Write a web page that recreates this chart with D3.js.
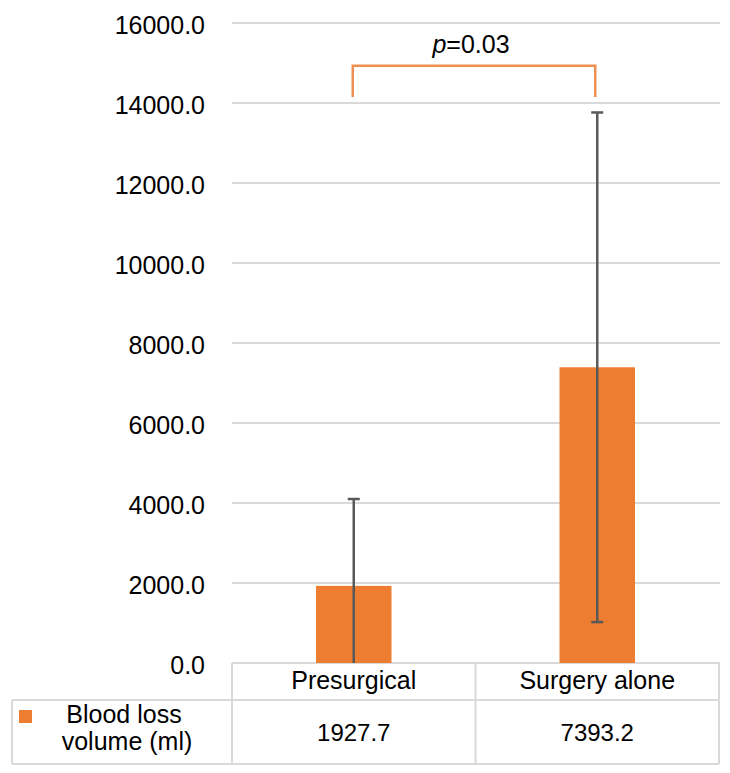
<!DOCTYPE html>
<html>
<head>
<meta charset="utf-8">
<script src="https://cdn.jsdelivr.net/npm/d3@7"></script>
<style>
  html, body { margin: 0; padding: 0; background: #fff; }
  svg { display: block; font-family: "Liberation Sans", Arial, sans-serif; }
</style>
</head>
<body>
<svg id="chart" width="730" height="773"></svg>
<script>
// ---- data ----
const categories = ["Presurgical", "Surgery alone"];
const values = [1927.7, 7393.2];
const errors = [2172, 6370];
const seriesName = ["Blood loss", "volume (ml)"];
const yTicks = [0, 2000, 4000, 6000, 8000, 10000, 12000, 14000, 16000];
const pLabel = "0.03";
const bracketLevels = [14150, 14930];

(function () {
const svg = d3.select("#chart");
const pLeft = 232, pRight = 720, pTop = 23, pBottom = 663;
const orange = "#ED7D31";
const grid = "#d9d9d9";
const fs = 25;

const y = d3.scaleLinear().domain([0, 16000]).range([pBottom, pTop]);
const x = d3.scaleBand().domain(categories).range([pLeft, pRight - 1]).paddingInner(0.69).paddingOuter(0.345);

// gridlines
svg.append("g").selectAll("line").data(yTicks).join("line")
  .attr("x1", pLeft).attr("x2", pRight)
  .attr("y1", d => y(d)).attr("y2", d => y(d))
  .attr("stroke", grid).attr("stroke-width", 2);

// y axis labels
const yAxis = d3.axisLeft(y).tickValues(yTicks).tickFormat(d3.format(".1f")).tickSize(0).tickPadding(0);
const ga = svg.append("g").attr("transform", `translate(205,2)`).call(yAxis);
ga.select(".domain").remove();
ga.selectAll("text").attr("font-size", fs).attr("fill", "#000")
  .attr("font-family", "'Liberation Sans', Arial, sans-serif");

// bars
svg.append("g").selectAll("rect").data(categories).join("rect")
  .attr("x", d => x(d)).attr("width", x.bandwidth())
  .attr("y", (d, i) => y(values[i])).attr("height", (d, i) => y(0) - y(values[i]))
  .attr("fill", orange);

// error bars
const eb = svg.append("g").attr("stroke", "#595959").attr("stroke-width", 2.5);
categories.forEach((c, i) => {
  const cx = x(c) + x.bandwidth() / 2;
  const hi = values[i] + errors[i];
  const loRaw = values[i] - errors[i];
  const lo = Math.max(0, loRaw);
  eb.append("line").attr("x1", cx).attr("x2", cx).attr("y1", y(hi)).attr("y2", y(lo));
  eb.append("line").attr("x1", cx - 6).attr("x2", cx + 6).attr("y1", y(hi)).attr("y2", y(hi));
  if (loRaw >= 0) eb.append("line").attr("x1", cx - 6).attr("x2", cx + 6).attr("y1", y(lo)).attr("y2", y(lo));
});

// significance bracket
const cx0 = x(categories[0]) + x.bandwidth() / 2 - 1;
const cx1 = x(categories[1]) + x.bandwidth() / 2 - 2;
svg.append("path")
  .attr("d", `M${cx0},${y(bracketLevels[0])}V${y(bracketLevels[1])}H${cx1}V${y(bracketLevels[0])}`)
  .attr("fill", "none").attr("stroke", "#EF9050").attr("stroke-width", 2.5);
const pt = svg.append("text")
  .attr("x", (cx0 + cx1) / 2 - 3).attr("y", 53)
  .attr("text-anchor", "middle").attr("font-size", fs).attr("fill", "#000");
pt.append("tspan").attr("font-style", "italic").text("p");
pt.append("tspan").text("=" + pLabel);

// data table
const tb = svg.append("g").attr("stroke", grid).attr("stroke-width", 2).attr("fill", "none");
const rowTop = 700, rowBot = 764, tableLeft = 12;
const colEdges = [pLeft, (pLeft + pRight - 1) / 2, pRight - 1];
tb.append("line").attr("x1", tableLeft).attr("x2", pRight - 1).attr("y1", rowTop).attr("y2", rowTop);
tb.append("line").attr("x1", tableLeft).attr("x2", pRight - 1).attr("y1", rowBot).attr("y2", rowBot);
tb.append("line").attr("x1", tableLeft).attr("x2", tableLeft).attr("y1", rowTop).attr("y2", rowBot);
colEdges.forEach(cx => tb.append("line").attr("x1", cx).attr("x2", cx).attr("y1", pBottom).attr("y2", rowBot));

const tt = svg.append("g").attr("font-size", fs).attr("fill", "#000").attr("text-anchor", "middle");
categories.forEach((c, i) => {
  const cx = x(c) + x.bandwidth() / 2;
  tt.append("text").attr("x", cx).attr("y", 689).text(c);
  tt.append("text").attr("x", cx).attr("y", 741).attr("font-size", 24).text(d3.format(".1f")(values[i]));
});
tt.append("text").attr("x", 124).attr("y", 723).text(seriesName[0]);
tt.append("text").attr("x", 127).attr("y", 750).text(seriesName[1]);
svg.append("rect").attr("x", 19).attr("y", 710).attr("width", 13).attr("height", 13).attr("fill", orange);
})();
</script>
</body>
</html>
